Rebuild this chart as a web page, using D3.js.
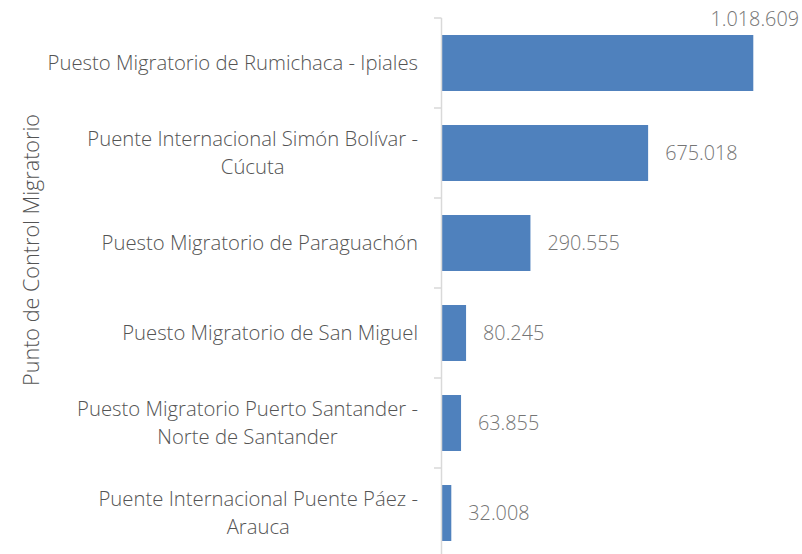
<!DOCTYPE html>
<html><head><meta charset="utf-8">
<script src="https://cdn.jsdelivr.net/npm/d3@7"></script>
<style>body{margin:0;background:#fff}svg{display:block}text{font-family:"Open Sans",sans-serif;font-weight:300}</style>
</head><body><svg id="c" width="802" height="554"></svg>
<script>
const categories = [
  ["Puesto Migratorio de Rumichaca - Ipiales"],
  ["Puente Internacional Simón Bolívar -", "Cúcuta"],
  ["Puesto Migratorio de Paraguachón"],
  ["Puesto Migratorio de San Miguel"],
  ["Puesto Migratorio Puerto Santander -", "Norte de Santander"],
  ["Puente Internacional Puente Páez -", "Arauca"]
];
const values = [1018609, 675018, 290555, 80245, 63855, 32008];
const valueLabels = ["1.018.609", "675.018", "290.555", "80.245", "63.855", "32.008"];
const axisTitle = "Punto de Control Migratorio";

const svg = d3.select("#c");
const ids = d3.range(values.length);
const y = d3.scaleBand().domain(ids).range([18, 558]).paddingInner(0.378).paddingOuter(0.189);
const x = d3.scaleLinear().domain([0, 1018609]).range([441.5, 753.3]);

// bars
svg.selectAll("rect.bar").data(ids).join("rect")
  .attr("x", x(0)).attr("y", i => y(i))
  .attr("width", i => x(values[i]) - x(0)).attr("height", y.bandwidth())
  .attr("fill", "#4f81bd");

// axis line and ticks at band boundaries
const step = y.step();
const bounds = d3.range(values.length + 1).map(i => 18 + i * step);
svg.append("line").attr("x1", 441.5).attr("x2", 441.5).attr("y1", 18).attr("y2", 558)
  .attr("stroke", "#d9d9d9").attr("stroke-width", 1.5);
svg.selectAll("line.tk").data(bounds).join("line").attr("class", "tk")
  .attr("x1", 434).attr("x2", 441.5).attr("y1", d => d).attr("y2", d => d)
  .attr("stroke", "#d9d9d9").attr("stroke-width", 1.5);

const FS_CAT = 20.3, FS_VAL = 19.8, FS_TITLE = 21.6;
// category labels
const lh = 27.8;
ids.forEach(i => {
  const lines = categories[i];
  const cy = y(i) + y.bandwidth() / 2;
  const items = lines.map((l, k) => svg.append("text").attr("font-size", FS_CAT).attr("fill", "#545454")
    .attr("text-anchor", "middle")
    .attr("y", cy + (k - (lines.length - 1) / 2) * lh).attr("dy", "0.35em").text(l));
  let w = 0;
  items.forEach(t => { w = Math.max(w, t.node().getComputedTextLength()); });
  items.forEach(t => t.attr("x", 418 - w / 2));
});

// value labels
ids.forEach(i => {
  const cy = y(i) + y.bandwidth() / 2;
  const t = svg.append("text").attr("font-size", FS_VAL).attr("fill", "#757575");
  if (i === 0) {
    t.attr("x", 799).attr("y", 19).attr("dy", "0.35em").attr("text-anchor", "end");
  } else {
    t.attr("x", x(values[i]) + 17).attr("y", cy).attr("dy", "0.35em");
  }
  t.text(valueLabels[i]);
});

// axis title
svg.append("text").attr("transform", "translate(31,250) rotate(-90)")
  .attr("text-anchor", "middle").attr("dy", "0.35em").attr("font-size", FS_TITLE).attr("fill", "#545454")
  .text(axisTitle);
</script></body></html>
